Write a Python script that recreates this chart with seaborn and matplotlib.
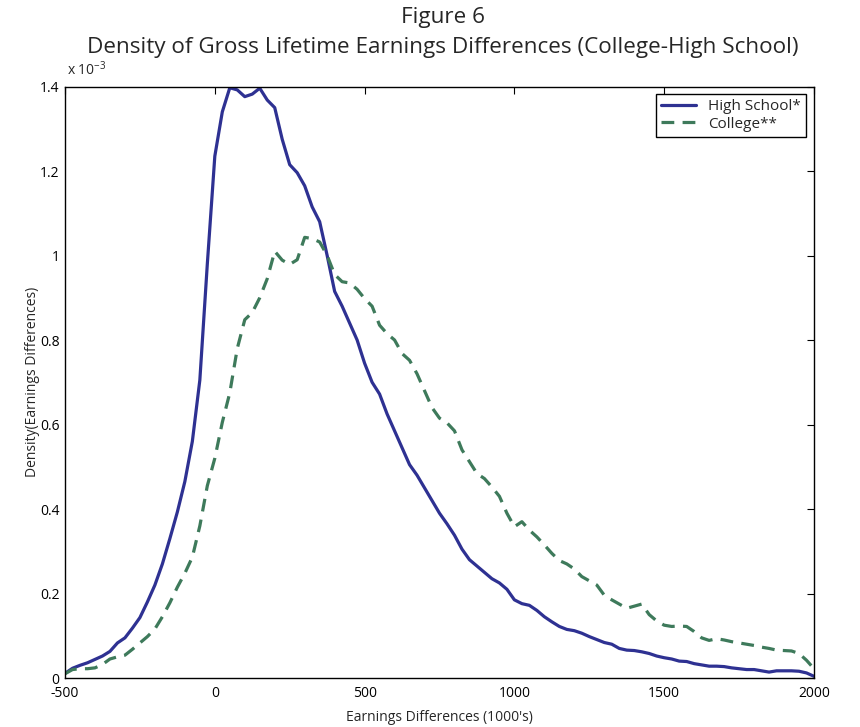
import numpy as np
import pandas as pd
import matplotlib
matplotlib.use("Agg")
import matplotlib.pyplot as plt
from matplotlib.ticker import FuncFormatter, FixedLocator
import seaborn as sns

# Data (density values in units of 1e-3)
x_vals = list(range(-500, 2001, 25))
high_school = [
    0.011, 0.023, 0.030, 0.036, 0.044, 0.052, 0.063, 0.083, 0.095, 0.118,
    0.143, 0.180, 0.220, 0.270, 0.330, 0.393, 0.465, 0.560, 0.705, 0.980,
    1.235, 1.340, 1.397, 1.392, 1.376, 1.382, 1.396, 1.368, 1.350, 1.275,
    1.215, 1.196, 1.165, 1.115, 1.080, 1.000, 0.915, 0.880, 0.840, 0.800,
    0.745, 0.700, 0.672, 0.625, 0.585, 0.545, 0.505, 0.480, 0.450, 0.420,
    0.390, 0.365, 0.338, 0.305, 0.280, 0.265, 0.250, 0.235, 0.225, 0.210,
    0.185, 0.176, 0.172, 0.160, 0.145, 0.133, 0.122, 0.115, 0.112, 0.106,
    0.098, 0.091, 0.084, 0.080, 0.070, 0.066, 0.065, 0.062, 0.058, 0.052,
    0.048, 0.045, 0.040, 0.039, 0.034, 0.031, 0.028, 0.028, 0.027, 0.024,
    0.022, 0.020, 0.020, 0.017, 0.014, 0.017, 0.017, 0.017, 0.016, 0.012,
    0.004,
]
college = [
    0.010, 0.020, 0.022, 0.022, 0.024, 0.032, 0.045, 0.050, 0.054, 0.068,
    0.083, 0.098, 0.116, 0.145, 0.178, 0.215, 0.248, 0.286, 0.360, 0.455,
    0.520, 0.605, 0.675, 0.780, 0.848, 0.865, 0.900, 0.945, 1.010, 0.989,
    0.979, 0.990, 1.043, 1.040, 1.032, 1.000, 0.955, 0.938, 0.935, 0.920,
    0.898, 0.880, 0.835, 0.815, 0.800, 0.768, 0.752, 0.720, 0.680, 0.640,
    0.615, 0.604, 0.585, 0.540, 0.512, 0.484, 0.472, 0.452, 0.430, 0.390,
    0.358, 0.370, 0.350, 0.334, 0.315, 0.295, 0.278, 0.270, 0.258, 0.240,
    0.230, 0.220, 0.196, 0.185, 0.175, 0.165, 0.170, 0.175, 0.150, 0.135,
    0.125, 0.122, 0.123, 0.122, 0.110, 0.095, 0.089, 0.093, 0.090, 0.086,
    0.083, 0.080, 0.077, 0.073, 0.070, 0.066, 0.065, 0.064, 0.058, 0.042,
    0.022,
]
series_names = ["High School*", "College**"]
x_ticks = [-500, 0, 500, 1000, 1500, 2000]
y_ticks = [0, 0.2, 0.4, 0.6, 0.8, 1.0, 1.2, 1.4]
SCALE = 1e-3

df = pd.DataFrame({
    "x": x_vals * 2,
    "density": [v * SCALE for v in high_school + college],
    "group": [series_names[0]] * len(x_vals) + [series_names[1]] * len(x_vals),
})

sns.set_theme(style="white")
plt.rcParams["font.family"] = ["Open Sans", "DejaVu Sans"]

fig = plt.figure(figsize=(8.6, 7.27), dpi=100)
ax = fig.add_axes([0.0756, 0.0674, 0.8709, 0.8136])

blue = "#2e3192"
green = "#3e7a5b"
sns.lineplot(data=df, x="x", y="density", hue="group", style="group",
             palette={series_names[0]: blue, series_names[1]: green},
             dashes={series_names[0]: "", series_names[1]: (4, 2.6)},
             linewidth=2.3, ax=ax, legend=True)

ax.set_xlim(-500, 2000)
ax.set_ylim(0, 1.4 * SCALE)
ax.xaxis.set_major_locator(FixedLocator(x_ticks))
ax.yaxis.set_major_locator(FixedLocator([t * SCALE for t in y_ticks]))
ax.yaxis.set_major_formatter(FuncFormatter(lambda v, p: f"{v / SCALE:g}"))
ax.xaxis.set_major_formatter(FuncFormatter(lambda v, p: f"{v:g}"))
ax.tick_params(direction="in", length=5, width=0.8, colors="black",
               labelsize=10, top=True, right=True, pad=4)
ax.tick_params(axis="x", pad=6)
for s in ax.spines.values():
    s.set_color("black")
    s.set_linewidth(1.0)

ax.set_xlabel("Earnings Differences (1000's)", fontsize=10, labelpad=6)
ax.set_ylabel("Density(Earnings Differences)", fontsize=10, labelpad=0)

fig.text(0.515, 1 - 17 / 727, "Figure 6", ha="center", va="center", fontsize=16.2)
fig.text(0.515, 1 - 47 / 727, "Density of Gross Lifetime Earnings Differences (College-High School)",
         ha="center", va="center", fontsize=16.2)
ax.text(0.003, 1.012, r"x 10$^{\mathregular{-3}}$", transform=ax.transAxes,
        ha="left", va="bottom", fontsize=10)

leg = ax.legend(loc="upper right", fontsize=11, frameon=True, fancybox=False,
                edgecolor="black", framealpha=1, borderaxespad=0.5,
                handlelength=2.3, borderpad=0.35, labelspacing=0.15)
leg.get_frame().set_linewidth(1.0)

fig.savefig("out.png", dpi=100)
